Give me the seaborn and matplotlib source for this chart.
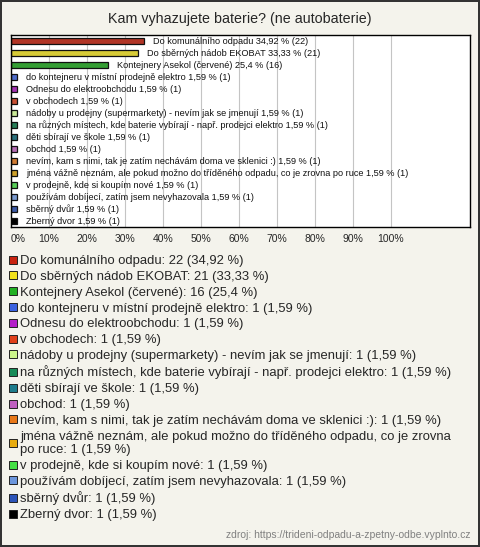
import matplotlib
matplotlib.use('Agg')
import matplotlib.pyplot as plt
import seaborn as sns
from matplotlib.lines import Line2D

categories = ['Do komunálního odpadu', 'Do sběrných nádob EKOBAT', 'Kontejnery Asekol (červené)',
              'do kontejneru v místní prodejně elektro', 'Odnesu do elektroobchodu', 'v obchodech',
              'nádoby u prodejny (supermarkety) - nevím jak se jmenují',
              'na různých místech, kde baterie vybírají - např. prodejci elektro',
              'děti sbírají ve škole', 'obchod',
              'nevím, kam s nimi, tak je zatím nechávám doma ve sklenici :)',
              'jména vážně neznám, ale pokud možno do tříděného odpadu, co je zrovna po ruce',
              'v prodejně, kde si koupím nové', 'používám dobíjecí, zatím jsem nevyhazovala',
              'sběrný dvůr', 'Zberný dvor']
counts = [22, 21, 16, 1, 1, 1, 1, 1, 1, 1, 1, 1, 1, 1, 1, 1]
percents = [34.92, 33.33, 25.4, 1.59, 1.59, 1.59, 1.59, 1.59, 1.59, 1.59, 1.59, 1.59, 1.59, 1.59, 1.59, 1.59]
colors = ['#c8230f', '#f2e21c', '#22b022', '#3a62e0', '#b41ec8', '#e0401a', '#ccf58a', '#188c58',
          '#1d7c8c', '#c060c0', '#e87818', '#e8ac10', '#44e044', '#6c96dc', '#2c54b8', '#000000']
ticks = [0, 10, 20, 30, 40, 50, 60, 70, 80, 90, 100]

sns.set_style('white')
plt.rcParams['font.family'] = ['Liberation Sans', 'DejaVu Sans']

bg = '#f4f3ec'
fig = plt.figure(figsize=(4.8, 5.47), dpi=100, facecolor=bg, linewidth=1.5, edgecolor='#333333')
ax = fig.add_axes([11/480, 1-227/547, 459/480, 192/547])

def pct(p):
    return f'{p:g}'.replace('.', ',')

sns.barplot(x=percents, y=categories, hue=categories, palette=colors, orient='h', ax=ax,
            legend=False, width=0.55, edgecolor='#111111', linewidth=0.9)

for i, (p, c) in enumerate(zip(percents, counts)):
    ax.annotate(f'{categories[i]} {pct(p)} % ({c})', (p, i), xytext=(6.5, 0), textcoords='offset points',
                va='center', ha='left', fontsize=6.6, color='#111111')

ax.set_xlim(0, 120.8)
ax.set_xticks(ticks)
ax.set_xticklabels([f'{t}%' for t in ticks], fontsize=7.5)
ax.get_xticklabels()[0].set_ha('left')
ax.set_yticks([])
ax.set_ylabel('')
ax.tick_params(axis='x', length=0, pad=5)
ax.grid(axis='x', color='#c4c4c4', linewidth=0.8)
ax.set_axisbelow(True)
ax.set_facecolor('white')
for s in ax.spines.values():
    s.set_color('black')
    s.set_linewidth(1)

fig.text(0.5, 1-19/547, 'Kam vyhazujete baterie? (ne autobaterie)', ha='center', va='center', fontsize=10.3)

handles = []
labels = []
for cat, c, p, col in zip(categories, counts, percents, colors):
    lab = f'{cat}: {c} ({pct(p)} %)'
    if len(lab) > 75:
        lab = lab.replace('zrovna po', 'zrovna\npo')
    handles.append(Line2D([], [], marker='s', linestyle='', markersize=6, markerfacecolor=col,
                          markeredgecolor='#222222', markeredgewidth=0.7))
    labels.append(lab)
fig.legend(handles, labels, loc='upper left', bbox_to_anchor=(8/480, 1-255/547), frameon=False,
           fontsize=9.4, handlelength=0.8, handletextpad=0.15, labelspacing=0.28, borderpad=0,
           borderaxespad=0)

fig.text(470/480, 1-535/547, 'zdroj: https://trideni-odpadu-a-zpetny-odbe.vyplnto.cz', ha='right',
         va='center', fontsize=7.5, color='#808080')

fig.savefig('out.png', dpi=100, facecolor=bg, edgecolor='#333333')
